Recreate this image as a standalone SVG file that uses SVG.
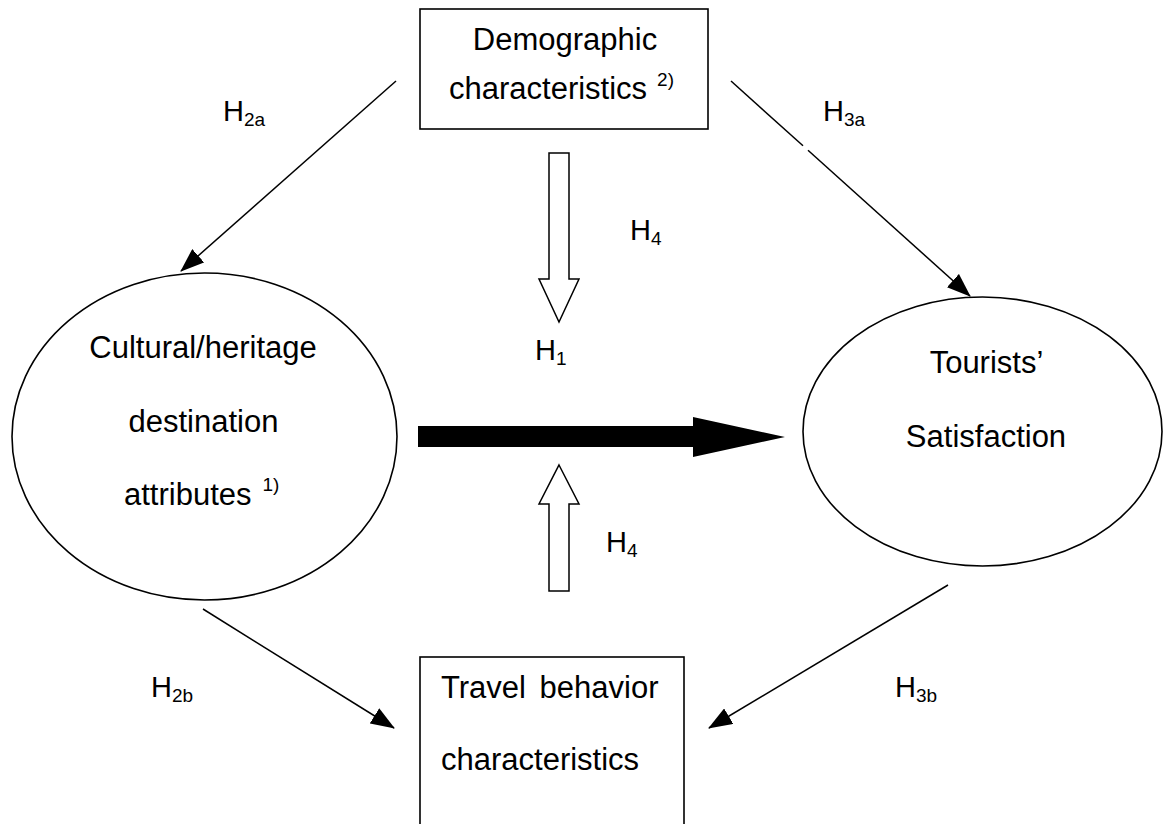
<svg xmlns="http://www.w3.org/2000/svg" width="1164" height="824" viewBox="0 0 1164 824">
<defs>
<marker id="ah" viewBox="0 0 24 18" refX="23" refY="9" markerWidth="24" markerHeight="18" markerUnits="userSpaceOnUse" orient="auto">
<path d="M0,0 L24,9 L0,18 Z" fill="#000"/>
</marker>
<style>
.shape{fill:#fff;stroke:#000;stroke-width:1.6}
.t{font-family:"Liberation Sans",Arial,sans-serif;font-size:31px;fill:#000}
.h{font-family:"Liberation Sans",Arial,sans-serif;font-size:29px;fill:#000}
.sub{font-size:19px}
.sup{font-size:19px}
.ln{stroke:#000;stroke-width:1.5;fill:none}
.hollow{fill:#fff;stroke:#000;stroke-width:1.5}
</style>
</defs>
<rect width="1164" height="824" fill="#fff"/>

<g id="connectors">
<line class="ln" x1="396" y1="81" x2="181" y2="271" marker-end="url(#ah)"/>
<line class="ln" x1="731" y1="81" x2="803" y2="145.8"/>
<line class="ln" x1="808" y1="150.3" x2="970" y2="296" marker-end="url(#ah)"/>
<line class="ln" x1="203" y1="609" x2="394" y2="728" marker-end="url(#ah)"/>
<line class="ln" x1="948" y1="585" x2="709" y2="728" marker-end="url(#ah)"/>
<path d="M418,426 L693,426 L693,417 L785,437 L693,457 L693,447 L418,447 Z" fill="#000"/>
<path class="hollow" d="M549,153 L569,153 L569,279 L579,279 L559,322 L539,279 L549,279 Z"/>
<path class="hollow" d="M559,465 L579,504 L569,504 L569,591 L549,591 L549,504 L539,504 Z"/>
</g>

<g id="labels">
<text class="h" x="223" y="121">H<tspan class="sub" dy="5">2a</tspan></text>
<text class="h" x="823" y="121">H<tspan class="sub" dy="5">3a</tspan></text>
<text class="h" x="630" y="240">H<tspan class="sub" dy="5">4</tspan></text>
<text class="h" x="535" y="360">H<tspan class="sub" dy="5">1</tspan></text>
<text class="h" x="606" y="552">H<tspan class="sub" dy="5">4</tspan></text>
<text class="h" x="151" y="697">H<tspan class="sub" dy="5">2b</tspan></text>
<text class="h" x="895" y="697">H<tspan class="sub" dy="5">3b</tspan></text>
</g>

<g id="demographic">
<rect class="shape" x="420" y="9" width="288" height="120"/>
<text class="t" x="565" y="50" text-anchor="middle">Demographic</text>
<text class="t" x="449" y="99">characteristics<tspan class="sup" dx="10" dy="-13">2)</tspan></text>
</g>

<g id="cultural">
<ellipse class="shape" cx="204.5" cy="436.5" rx="192.5" ry="163.5"/>
<text class="t" x="203" y="358" text-anchor="middle">Cultural/heritage</text>
<text class="t" x="203.5" y="432" text-anchor="middle">destination</text>
<text class="t" x="124" y="505">attributes<tspan class="sup" dx="11" dy="-14">1)</tspan></text>
</g>

<g id="satisfaction">
<ellipse class="shape" cx="982.5" cy="431.5" rx="179.5" ry="134.5"/>
<text class="t" x="986.5" y="373" text-anchor="middle">Tourists’</text>
<text class="t" x="986" y="447" text-anchor="middle">Satisfaction</text>
</g>

<g id="travel">
<rect class="shape" x="420" y="657" width="264" height="200"/>
<text class="t" x="441" y="698" word-spacing="5">Travel behavior</text>
<text class="t" x="441" y="770">characteristics</text>
</g>
</svg>
